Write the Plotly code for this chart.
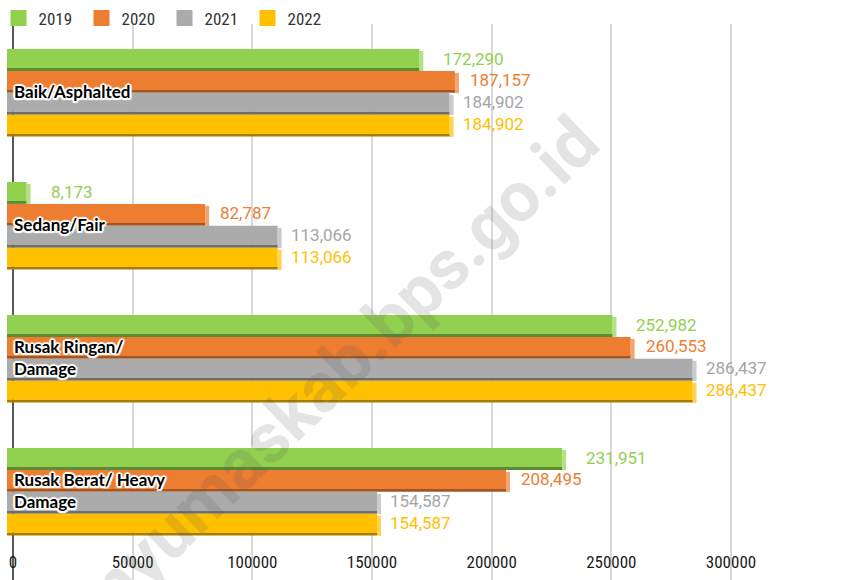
import plotly.graph_objects as go

# ---- data ----
categories = ["Baik/Asphalted", "Sedang/Fair", "Rusak Ringan/<br>Damage", "Rusak Berat/ Heavy<br>Damage"]
years = ["2019", "2020", "2021", "2022"]
v2019 = [172290, 8173, 252982, 231951]
v2020 = [187157, 82787, 260553, 208495]
v2021 = [184902, 113066, 286437, 154587]
v2022 = [184902, 113066, 286437, 154587]
x_ticks = [0, 50000, 100000, 150000, 200000, 250000, 300000]
watermark = "banyumaskab.bps.go.id"

series = [v2019, v2020, v2021, v2022]

# ---- styles ----
face_col = ["#92D050", "#ED7D31", "#ABABAB", "#FFC000"]
dark_col = ["#5E8A33", "#A4561F", "#6E6E6E", "#A87D00"]
light_col = ["#B2E285", "#F3A46F", "#CBCBCB", "#FFD351"]
label_col = ["#92D050", "#ED7D31", "#A5A5A5", "#FFC000"]
label_shift = [18, 9, 7, 7]

W, H = 841, 580
ml, mt = 7, 24            # plot area starts where the (3D-shifted) bars start
axis_px = 13              # page x of the value-axis zero line
plot_w = W - ml
plot_h = H - mt
k = 718 / 300000.0        # px per unit on the value axis
depth_px = axis_px - ml   # bars drawn shifted left by this (3D depth)
x_range = [-depth_px / k, (plot_w - depth_px) / k]   # grid / tick axis
x2_range = [0, plot_w / k]                           # bar axis

cat_px = 133.0            # pixels per category
first_center_px = 93.0    # page y of first category center
y_top = -(first_center_px - mt) / cat_px
y_bot = 3 + (H - first_center_px - 3 * cat_px) / cat_px

def u(px):
    return px / cat_px

bar_pitch = u(21.9)
face_h = u(19)
dark_h = u(3.2)
group_top = u(49 - first_center_px)
facet_dx = 4 / k

ypos = list(range(len(categories)))
fig = go.Figure()

for s, vals in enumerate(series):
    off = group_top + s * bar_pitch
    # right-end facet (light)
    fig.add_trace(go.Bar(
        y=ypos, x=[facet_dx] * len(vals), base=vals, orientation="h", xaxis="x2",
        offset=off + u(2), width=face_h + dark_h - u(2),
        marker=dict(color=light_col[s], line=dict(width=0)),
        showlegend=False, hoverinfo="skip"))
    # bottom strip (dark)
    fig.add_trace(go.Bar(
        y=ypos, x=vals, orientation="h", xaxis="x2",
        offset=off + face_h - u(0.3), width=dark_h,
        marker=dict(color=dark_col[s], line=dict(width=0)),
        showlegend=False, hoverinfo="skip"))
    # front face
    fig.add_trace(go.Bar(
        y=ypos, x=vals, orientation="h", xaxis="x2",
        offset=off, width=face_h,
        marker=dict(color=face_col[s], line=dict(width=0)),
        name=years[s], showlegend=False))
    # legend entry
    fig.add_trace(go.Scatter(
        x=[None], y=[None], mode="markers", name=years[s],
        marker=dict(symbol="square", size=16, color=face_col[s])))
    # data labels
    for c, v in enumerate(vals):
        fig.add_annotation(
            x=v + facet_dx, y=c + off + face_h / 2, xref="x2", yref="y",
            text=f"{v:,}", showarrow=False, xanchor="left", yanchor="middle",
            xshift=label_shift[s],
            font=dict(family="Roboto", size=17, color=label_col[s]))

# category labels (inside, left aligned over the bars)
halo = ("white 2px 0 1px, white -2px 0 1px, white 0 2px 1px, white 0 -2px 1px, "
        "white 1.5px 1.5px 1px, white -1.5px -1.5px 1px, white 1.5px -1.5px 1px, white -1.5px 1.5px 1px")
for c, name in enumerate(categories):
    fig.add_annotation(
        x=0, y=c, xref="x", yref="y", text=name, showarrow=False,
        xanchor="left", yanchor="middle", align="left", yshift=2, xshift=-1,
        font=dict(family="Lato", size=17, color="#000000", weight="bold", shadow=halo))

# watermark
fig.add_annotation(
    x=(316 - ml) / plot_w, y=1 - (391 - mt) / plot_h, xref="paper", yref="paper",
    xanchor="center", yanchor="middle",
    text=watermark, showarrow=False, textangle=-44,
    font=dict(family="Roboto", size=70, color="rgba(90,90,90,0.16)", weight="bold"))

tick_font = dict(family="Liberation Sans Narrow, Roboto Condensed, Lato", size=17, color="#1a1a1a")

fig.update_layout(
    width=W, height=H,
    margin=dict(l=ml, r=0, t=mt, b=0, autoexpand=False),
    paper_bgcolor="white", plot_bgcolor="white",
    barmode="overlay",
    showlegend=True,
    legend=dict(orientation="h", x=(-1.5 - ml) / plot_w, y=1 + 5.5 / plot_h,
                xanchor="left", yanchor="middle",
                font=dict(family="Liberation Sans Narrow, Roboto Condensed, Lato", size=17, color="#333333"),
                entrywidth=38, entrywidthmode="pixels", itemsizing="trace",
                bgcolor="rgba(255,255,255,0)"),
    xaxis=dict(range=x_range, tickvals=x_ticks, ticktext=[str(t) for t in x_ticks],
               showgrid=True, gridcolor="#D9D9D9", gridwidth=1.5,
               zeroline=True, zerolinecolor="#595959", zerolinewidth=2,
               showline=False,
               ticks="", ticklabelposition="outside", ticklabelstandoff=-30,
               tickfont=tick_font, fixedrange=True),
    xaxis2=dict(range=x2_range, overlaying="x", anchor="y", visible=False,
                showgrid=False, zeroline=False, fixedrange=True),
    yaxis=dict(range=[y_bot, y_top], tickvals=ypos, showticklabels=False,
               showgrid=False, zeroline=False, showline=False,
               ticks="", fixedrange=True),
)

fig.write_html("out.html", config={"displayModeBar": False},
               post_script="document.body.style.margin='0px';")
